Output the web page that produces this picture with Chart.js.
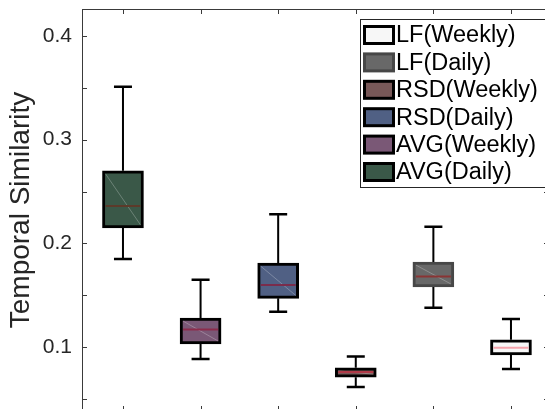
<!DOCTYPE html>
<html>
<head>
<meta charset="utf-8">
<script src="https://cdn.jsdelivr.net/npm/chart.js@4.4.1/dist/chart.umd.min.js"></script>
<style>
  html, body { margin: 0; padding: 0; background: #fff; overflow: hidden; }
  #wrap { width: 552px; height: 414px; }
</style>
</head>
<body>
<div id="wrap"><canvas id="boxChart" width="552" height="414"></canvas></div>
<script>
// box order, left to right
const categories = ['AVG(Daily)', 'AVG(Weekly)', 'RSD(Daily)', 'RSD(Weekly)', 'LF(Daily)', 'LF(Weekly)'];
const positions = [1, 2, 3, 4, 5, 6];
const whiskerLow = [0.185, 0.0885, 0.134, 0.0615, 0.138, 0.079];
const q1 = [0.215, 0.103, 0.147, 0.071, 0.158, 0.0925];
const medians = [0.236, 0.117, 0.160, 0.076, 0.168, 0.0995];
const q3 = [0.270, 0.128, 0.181, 0.080, 0.182, 0.107];
const whiskerHigh = [0.351, 0.165, 0.228, 0.091, 0.216, 0.127];
const yTickValues = [0.05, 0.1, 0.15, 0.2, 0.25, 0.3, 0.35, 0.4];

const fills = ['#3a5848', '#7a5876', '#506084', '#785858', '#686868', '#f7f7f7'];
const edges = ['#000000', '#000000', '#000000', '#000000', '#474747', '#000000'];
const medianColors = ['#5c3a2a', '#8c2c4c', '#7a2c4c', '#b03a48', '#8a3434', '#f5a4ac'];

const BOX_W = 41;
const CAP_W = 18;

Chart.defaults.font.family = "'Liberation Sans', Arial, sans-serif";

const boxExtras = {
  id: 'boxExtras',
  afterDatasetsDraw(chart) {
    const ctx = chart.ctx;
    const x = chart.scales.x, y = chart.scales.y;
    ctx.save();
    positions.forEach((p, i) => {
      const cx = x.getPixelForValue(p);
      const top = y.getPixelForValue(q3[i]);
      const bot = y.getPixelForValue(q1[i]);
      // faint diagonal inside the box
      ctx.strokeStyle = 'rgba(255,255,255,0.25)';
      ctx.lineWidth = 1;
      ctx.beginPath();
      ctx.moveTo(cx - BOX_W / 2 + 3, top + 3);
      ctx.lineTo(cx + BOX_W / 2 - 3, bot - 3);
      ctx.stroke();
      // median
      const my = y.getPixelForValue(medians[i]);
      ctx.strokeStyle = medianColors[i];
      ctx.lineWidth = 2;
      ctx.beginPath();
      ctx.moveTo(cx - BOX_W / 2 + 3, my);
      ctx.lineTo(cx + BOX_W / 2 - 3, my);
      ctx.stroke();
      // whiskers
      const hi = y.getPixelForValue(whiskerHigh[i]);
      const lo = y.getPixelForValue(whiskerLow[i]);
      ctx.strokeStyle = '#000';
      ctx.lineWidth = 2;
      ctx.beginPath();
      ctx.moveTo(cx, top); ctx.lineTo(cx, hi);
      ctx.moveTo(cx, bot); ctx.lineTo(cx, lo);
      ctx.stroke();
      ctx.lineWidth = 2.5;
      ctx.beginPath();
      ctx.moveTo(cx - CAP_W / 2, hi); ctx.lineTo(cx + CAP_W / 2, hi);
      ctx.moveTo(cx - CAP_W / 2, lo); ctx.lineTo(cx + CAP_W / 2, lo);
      ctx.stroke();
    });
    ctx.restore();
  },
  afterDraw(chart) {
    const ctx = chart.ctx;
    const a = chart.chartArea;
    const x = chart.scales.x, y = chart.scales.y;
    ctx.save();
    // frame
    ctx.strokeStyle = '#3a3a3a';
    ctx.lineWidth = 1;
    ctx.strokeRect(a.left + 0.5, a.top + 0.5, a.right - a.left, a.bottom - a.top);
    // inward ticks
    ctx.beginPath();
    yTickValues.forEach(v => {
      const py = Math.round(y.getPixelForValue(v)) + 0.5;
      ctx.moveTo(a.left, py); ctx.lineTo(a.left + 5, py);
      ctx.moveTo(a.right - 5, py); ctx.lineTo(a.right, py);
    });
    positions.forEach(p => {
      const px = Math.round(x.getPixelForValue(p)) + 0.5;
      ctx.moveTo(px, a.top); ctx.lineTo(px, a.top + 5);
      ctx.moveTo(px, a.bottom - 5); ctx.lineTo(px, a.bottom);
    });
    ctx.stroke();

    // legend (reverse order of boxes)
    const lx = 360, ly = 19, lw = 190, lh = 168;
    ctx.fillStyle = '#fff';
    ctx.fillRect(lx, ly, lw, lh);
    ctx.strokeStyle = '#262626';
    ctx.lineWidth = 1;
    ctx.strokeRect(lx + 0.5, ly + 0.5, lw, lh);
    ctx.font = "23.5px 'Liberation Sans', Arial, sans-serif";
    ctx.textBaseline = 'middle';
    ctx.textAlign = 'left';
    for (let k = 0; k < categories.length; k++) {
      const i = categories.length - 1 - k;
      const cy = 35 + k * 27.4;
      ctx.fillStyle = edges[i];
      ctx.fillRect(363, cy - 10, 32, 20);
      ctx.fillStyle = fills[i];
      ctx.fillRect(366, cy - 7, 26, 14);
      ctx.fillStyle = '#000';
      ctx.fillText(categories[i], 396, cy + 1);
    }
    ctx.restore();
  }
};

const ctx = document.getElementById('boxChart').getContext('2d');
new Chart(ctx, {
  type: 'bar',
  data: {
    labels: categories,
    datasets: [{
      label: 'Temporal Similarity',
      data: positions.map((p, i) => ({ x: p, y: [q1[i], q3[i]] })),
      backgroundColor: fills,
      borderColor: edges,
      borderWidth: 3,
      borderSkipped: false,
      barThickness: BOX_W,
    }],
  },
  options: {
    responsive: false,
    animation: false,
    layout: { padding: { left: 0, top: 9, right: 3, bottom: 3 } },
    plugins: { legend: { display: false }, tooltip: { enabled: false } },
    scales: {
      x: {
        type: 'linear',
        min: 0.472,
        max: 6.49,
        offset: false,
        display: false,
      },
      y: {
        min: 0.0384,
        max: 0.426,
        afterBuildTicks: function (scale) {
          scale.ticks = yTickValues.map(v => ({ value: v }));
        },
        afterFit: function (scale) {
          scale.width = 82;
          scale.paddingTop = 0;
          scale.paddingBottom = 0;
        },
        grid: { display: false, drawTicks: false },
        border: { display: false },
        ticks: {
          autoSkip: false,
          padding: 10,
          color: '#262626',
          font: { size: 21 },
          callback: function (value) {
            return Math.abs(value * 10 - Math.round(value * 10)) < 1e-6 ? value.toFixed(1) : '';
          },
        },
        title: {
          display: true,
          text: 'Temporal Similarity',
          color: '#262626',
          font: { size: 28 },
          padding: { top: 4, bottom: 0 },
        },
      },
    },
  },
  plugins: [boxExtras],
});
</script>
</body>
</html>
